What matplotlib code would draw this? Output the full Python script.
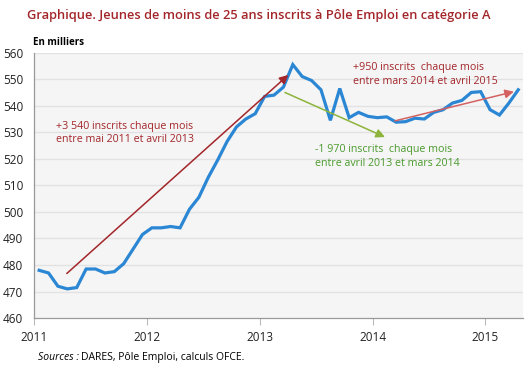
import matplotlib
matplotlib.use("Agg")
import matplotlib.pyplot as plt

plt.rcParams['font.family'] = ['Open Sans', 'DejaVu Sans']

# monthly values, Jan 2011 - Apr 2015 (thousands)
start_year = 2011
values = [478.0, 477.0, 472.0, 471.0, 471.5, 478.5, 478.5, 477.0, 477.5, 480.5,
          486.0, 491.5, 494.0, 494.0, 494.5, 494.0, 501.0, 505.5, 513.0, 519.5,
          526.5, 532.0, 535.0, 537.0, 543.5, 544.0, 547.0, 555.5, 551.0, 549.5,
          546.0, 534.5, 546.5, 535.5, 537.5, 536.0, 535.5, 535.8, 533.8, 534.0,
          535.3, 535.0, 537.5, 538.5, 541.0, 542.0, 545.0, 545.3, 538.5, 536.5,
          541.0, 546.0]
dates = [start_year + (i + 0.5) / 12 for i in range(len(values))]

year_ticks = [2011, 2012, 2013, 2014, 2015]
value_ticks = [460, 470, 480, 490, 500, 510, 520, 530, 540, 550, 560]

# trend arrows: (start, end) in (year, value)
trend_up1 = ((2011.287, 476.8), (2013.252, 551.6))
trend_down = ((2013.222, 545.0), (2014.109, 528.2))
trend_up2 = ((2014.198, 534.3), (2015.253, 545.3))

label_up1 = "+3 540 inscrits chaque mois\nentre mai 2011 et avril 2013"
label_down = "-1 970 inscrits  chaque mois\nentre avril 2013 et mars 2014"
label_up2 = "+950 inscrits  chaque mois\nentre mars 2014 et avril 2015"

dark_red = "#a3262a"
green_txt = "#4a9a2c"
green_arrow = "#8cb43a"
light_red = "#d56262"

fig = plt.figure(figsize=(5.3, 3.76), dpi=100)
ax = fig.add_axes([0.065, 0.154, 0.921, 0.706])
ax.set_facecolor("#f5f5f5")

for v in value_ticks[1:]:
    ax.axhline(v, color="#e2e2e2", lw=1, zorder=0)

ax.plot(dates, values, color="#2b87d4", lw=2.3, zorder=3, solid_joinstyle="miter")

for (p0, p1), col in [(trend_up1, dark_red), (trend_down, green_arrow), (trend_up2, light_red)]:
    ax.annotate("", xy=p1, xytext=p0,
                arrowprops=dict(arrowstyle="-|>", color=col, lw=1.1,
                                mutation_scale=13, shrinkA=0, shrinkB=0),
                zorder=4)

ax.text(2011.19, 529.7, label_up1, color=dark_red, fontsize=7.7, va="center", ha="left", linespacing=1.3)
ax.text(2013.485, 520.8, label_down, color=green_txt, fontsize=7.7, va="center", ha="left", linespacing=1.3)
ax.text(2013.828, 551.7, label_up2, color=dark_red, fontsize=7.7, va="center", ha="left", linespacing=1.3)

ax.set_xlim(2011, 2015.33)
ax.set_ylim(460, 560)
ax.set_xticks(year_ticks)
ax.set_xticklabels([str(y) for y in year_ticks])
ax.set_yticks(value_ticks)
ax.tick_params(axis="x", length=5, color="#bbbbbb", labelsize=8.5, labelcolor="#222222", pad=4)
ax.tick_params(axis="y", length=0, labelsize=8.5, labelcolor="#222222", pad=8)
for side in ["top", "right"]:
    ax.spines[side].set_visible(False)
for side in ["left", "bottom"]:
    ax.spines[side].set_color("#999999")
    ax.spines[side].set_linewidth(0.9)

fig.text(27 / 530, 0.96, "Graphique. Jeunes de moins de 25 ans inscrits à Pôle Emploi en catégorie A",
         color=dark_red, fontsize=9.3, fontweight="semibold", ha="left", va="center")
fig.text(33 / 530, 0.888, "En milliers", fontsize=7, fontweight="bold", ha="left", va="center")
fig.text(38 / 530, 0.05, "Sources :", fontsize=7.5, style="italic", ha="left", va="center")
fig.text(81 / 530, 0.05, "DARES, Pôle Emploi, calculs OFCE.", fontsize=7.5, ha="left", va="center")

fig.savefig("out.png", dpi=100)
